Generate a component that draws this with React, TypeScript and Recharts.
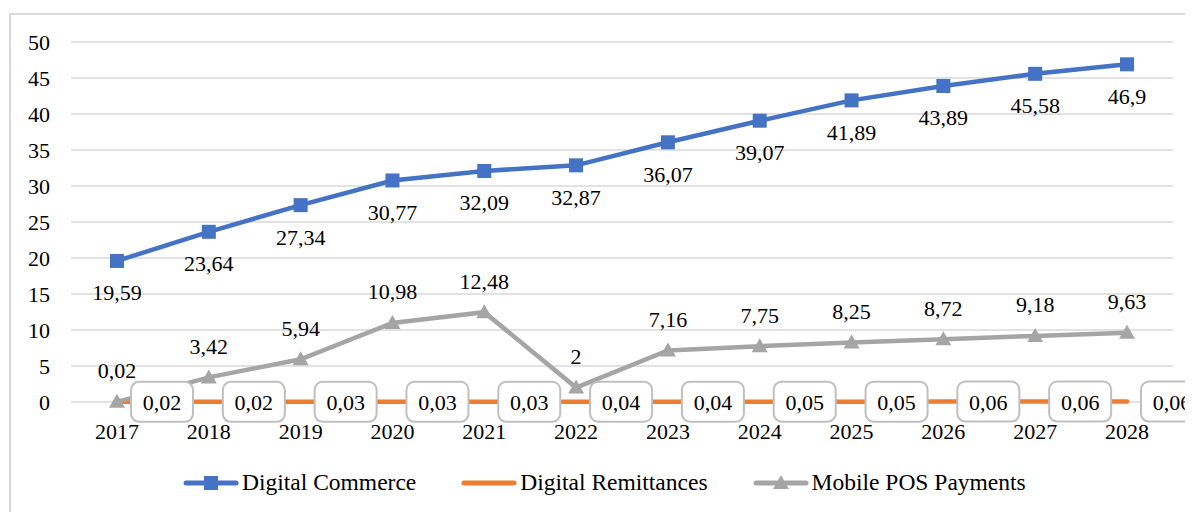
import React from "react";
import {
  LineChart,
  Line,
  XAxis,
  YAxis,
  CartesianGrid,
  Legend,
  LabelList,
} from "recharts";

const years = ["2017", "2018", "2019", "2020", "2021", "2022", "2023", "2024", "2025", "2026", "2027", "2028"];
const digitalCommerce = [19.59, 23.64, 27.34, 30.77, 32.09, 32.87, 36.07, 39.07, 41.89, 43.89, 45.58, 46.9];
const digitalRemittances = [0.02, 0.02, 0.03, 0.03, 0.03, 0.04, 0.04, 0.05, 0.05, 0.06, 0.06, 0.06];
const mobilePos = [0.02, 3.42, 5.94, 10.98, 12.48, 2, 7.16, 7.75, 8.25, 8.72, 9.18, 9.63];
const yTicks = [0, 5, 10, 15, 20, 25, 30, 35, 40, 45, 50];

const data = years.map((y, i) => ({
  year: y,
  dc: digitalCommerce[i],
  dr: digitalRemittances[i],
  mpos: mobilePos[i],
}));

const FONT = "Liberation Serif";
const BLUE = "#4472C4";
const ORANGE = "#ED7D31";
const GRAY = "#A5A5A5";

const fmt = (v: any) => String(v).replace(".", ",");

// labels under the blue points
const BelowLabel = (props: any) => {
  const { x, y, value } = props;
  return (
    <text x={x} y={y + 32} textAnchor="middle" dominantBaseline="central" fontSize={22} style={{ fontFamily: FONT }} fill="#000">
      {fmt(value)}
    </text>
  );
};

// labels above the gray points
const AboveLabel = (props: any) => {
  const { x, y, value } = props;
  return (
    <text x={x} y={y - 31} textAnchor="middle" dominantBaseline="central" fontSize={22} style={{ fontFamily: FONT }} fill="#000">
      {fmt(value)}
    </text>
  );
};

// boxed labels to the right of the orange points
const BoxLabel = (props: any) => {
  const { x, y, value } = props;
  return (
    <g>
      <rect x={x + 14} y={y - 20} width={62} height={40} rx={8} ry={8} fill="#fff" stroke="#BFBFBF" strokeWidth={2} />
      <text x={x + 45} y={y + 1} textAnchor="middle" dominantBaseline="central" fontSize={22} style={{ fontFamily: FONT }} fill="#000">
        {fmt(value)}
      </text>
    </g>
  );
};

const SquareDot = (props: any) => {
  const { cx, cy } = props;
  if (cx == null || cy == null) return null;
  return <rect x={cx - 7} y={cy - 7} width={14} height={14} fill={BLUE} />;
};

const TriangleDot = (props: any) => {
  const { cx, cy } = props;
  if (cx == null || cy == null) return null;
  return <polygon points={`${cx},${cy - 8} ${cx + 8},${cy + 6} ${cx - 8},${cy + 6}`} fill={GRAY} />;
};

const legendItems = [
  { name: "Digital Commerce", color: BLUE, marker: "square" },
  { name: "Digital Remittances", color: ORANGE, marker: "none" },
  { name: "Mobile POS Payments", color: GRAY, marker: "triangle" },
];

const renderLegend = () => (
  <div style={{ display: "flex", alignItems: "center", fontFamily: FONT, fontSize: 23.5, color: "#000", paddingLeft: 175, height: 27 }}>
    {legendItems.map((it, i) => (
      <div key={it.name} style={{ display: "flex", alignItems: "center", marginRight: i < 2 ? 45 : 0 }}>
        <svg width={56} height={20} style={{ marginRight: 3 }}>
          <line x1={3} y1={10} x2={53} y2={10} stroke={it.color} strokeWidth={5} strokeLinecap="round" />
          {it.marker === "square" && <rect x={21} y={3} width={14} height={14} fill={it.color} />}
          {it.marker === "triangle" && <polygon points="28,2 36,16 20,16" fill={it.color} />}
        </svg>
        <span>{it.name}</span>
      </div>
    ))}
  </div>
);

const tickStyle = { fontSize: 22, fill: "#000", style: { fontFamily: FONT } };

export default function App() {
  return (
    <div style={{ position: "relative", width: 1185, height: 504, overflow: "hidden", background: "#fff", fontFamily: FONT }}>
      <div
        style={{
          position: "absolute",
          left: 1,
          top: 5,
          width: 1200,
          height: 520,
          border: "2px solid #D9D9D9",
          boxSizing: "border-box",
        }}
      />
      <LineChart
        width={1185}
        height={504}
        data={data}
        margin={{ top: 34, right: 20, bottom: 43, left: 0 }}
        style={{ position: "absolute", left: 0, top: 0 }}
      >
        <CartesianGrid vertical={false} stroke="#D9D9D9" strokeWidth={1.5} />
        <XAxis
          dataKey="year"
          axisLine={false}
          tickLine={false}
          tickSize={0}
          tickMargin={21}
          height={40}
          padding={{ left: 46, right: 46 }}
          tick={tickStyle}
          interval={0}
        />
        <YAxis
          domain={[0, 50]}
          ticks={yTicks}
          axisLine={false}
          tickLine={false}
          tickSize={0}
          tickMargin={21}
          width={63}
          tick={tickStyle}
        />
        <Legend
          verticalAlign="bottom"
          content={renderLegend}
          wrapperStyle={{ position: "absolute", left: 0, top: 461, width: 1185 }}
        />
        <Line
          name="Digital Commerce"
          dataKey="dc"
          stroke={BLUE}
          strokeWidth={4.5}
          dot={<SquareDot />}
          activeDot={false}
          isAnimationActive={false}
        >
          <LabelList dataKey="dc" content={<BelowLabel />} />
        </Line>
        <Line
          name="Digital Remittances"
          dataKey="dr"
          stroke={ORANGE}
          strokeWidth={4.5}
          strokeLinecap="round"
          dot={false}
          activeDot={false}
          isAnimationActive={false}
        />
        <Line
          name="Mobile POS Payments"
          dataKey="mpos"
          stroke={GRAY}
          strokeWidth={4.5}
          dot={<TriangleDot />}
          activeDot={false}
          isAnimationActive={false}
        >
          <LabelList dataKey="mpos" content={<AboveLabel />} />
        </Line>
        {/* invisible copy of the remittances line so its boxed labels sit on top */}
        <Line
          dataKey="dr"
          stroke="none"
          dot={false}
          activeDot={false}
          legendType="none"
          isAnimationActive={false}
        >
          <LabelList dataKey="dr" content={<BoxLabel />} />
        </Line>
      </LineChart>
    </div>
  );
}
